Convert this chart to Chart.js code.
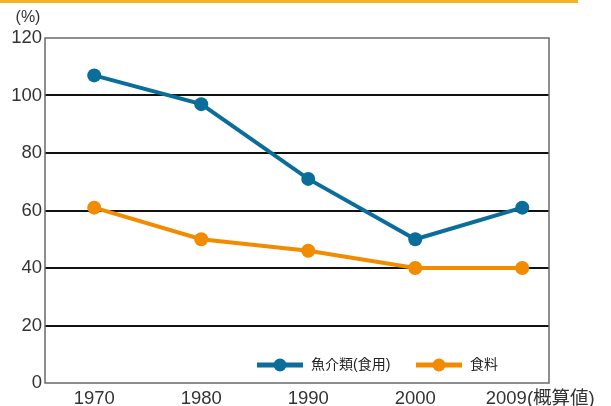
<!DOCTYPE html>
<html>
<head>
<meta charset="utf-8">
<script src="https://cdn.jsdelivr.net/npm/chart.js@4"></script>
<style>
  html, body { margin: 0; padding: 0; background: #fff; }
  #wrap { position: relative; width: 611px; height: 406px; }
  #topbar { position: absolute; left: 0; top: 0; width: 578px; height: 3px; background: #f5b324; }
</style>
</head>
<body>
<div id="wrap">
  <div id="topbar"></div>
  <canvas id="selfSufficiencyChart" width="611" height="406"></canvas>
</div>
<script>
const years = ['1970', '1980', '1990', '2000', '2009(概算値)'];
const fishValues = [107, 97, 71, 50, 61];
const foodValues = [61, 50, 46, 40, 40];
const yTicks = [0, 20, 40, 60, 80, 100, 120];

const blue = '#0b6d99';
const orange = '#f28b00';
const fontFamily = '"Liberation Sans", Arial, "Noto Sans CJK JP", sans-serif';

// year index -> point, so the x axis can sit on a linear scale
const toPoints = values => values.map((v, i) => ({ x: i, y: v }));

// the last label hangs to the right of its point, so pad it on the left
const xLabel = i => (i === years.length - 1 ? '       ' : '') + years[i];

// gray frame around the plot area
const frame = {
    id: 'frame',
    afterDatasetsDraw(chart) {
        const a = chart.chartArea;
        const ctx = chart.ctx;
        ctx.save();
        ctx.strokeStyle = '#6a6a6a';
        ctx.lineWidth = 1.5;
        ctx.strokeRect(a.left, a.top, a.right - a.left, a.bottom - a.top);
        ctx.restore();
    }
};

// legend drawn inside the plot near the bottom, line with a dot
const innerLegend = {
    id: 'innerLegend',
    afterDraw(chart) {
        const ctx = chart.ctx;
        const positions = [257, 416];
        const y = 365;
        ctx.save();
        ctx.font = '14px ' + fontFamily;
        ctx.textBaseline = 'middle';
        chart.data.datasets.forEach((ds, i) => {
            const x = positions[i];
            ctx.strokeStyle = ds.borderColor;
            ctx.lineWidth = 5;
            ctx.beginPath();
            ctx.moveTo(x, y);
            ctx.lineTo(x + 46, y);
            ctx.stroke();
            ctx.fillStyle = ds.borderColor;
            ctx.beginPath();
            ctx.arc(x + 23, y, 6.5, 0, Math.PI * 2);
            ctx.fill();
            ctx.fillStyle = '#222';
            ctx.fillText(ds.label, x + 54, y);
        });
        ctx.restore();
    }
};

// "(%)" above the value axis
const unitLabel = {
    id: 'unitLabel',
    afterDraw(chart) {
        const ctx = chart.ctx;
        ctx.save();
        ctx.font = '16px ' + fontFamily;
        ctx.fillStyle = '#333';
        ctx.textAlign = 'center';
        ctx.textBaseline = 'middle';
        ctx.fillText('(%)', 28, 18);
        ctx.restore();
    }
};

const ctx = document.getElementById('selfSufficiencyChart').getContext('2d');
new Chart(ctx, {
    type: 'line',
    data: {
        datasets: [
            {
                label: '魚介類(食用)',
                data: toPoints(fishValues),
                borderColor: blue,
                backgroundColor: blue,
                borderWidth: 4,
                pointRadius: 7,
                pointHoverRadius: 7,
                pointBorderWidth: 0,
                fill: false,
                tension: 0
            },
            {
                label: '食料',
                data: toPoints(foodValues),
                borderColor: orange,
                backgroundColor: orange,
                borderWidth: 4,
                pointRadius: 7,
                pointHoverRadius: 7,
                pointBorderWidth: 0,
                fill: false,
                tension: 0
            }
        ]
    },
    options: {
        responsive: false,
        animation: false,
        layout: {
            padding: { top: 38, right: 62, left: 0, bottom: 0 }
        },
        plugins: {
            legend: { display: false },
            tooltip: { enabled: false }
        },
        scales: {
            x: {
                type: 'linear',
                min: -0.46,
                max: 4.25,
                afterBuildTicks(scale) {
                    scale.ticks = years.map((y, i) => ({ value: i }));
                },
                grid: { display: false, drawTicks: false },
                border: { display: false },
                ticks: {
                    color: '#333',
                    font: { family: fontFamily, size: 18.5 },
                    padding: 5,
                    maxRotation: 0,
                    autoSkip: false,
                    callback: v => xLabel(v)
                },
                afterFit(scale) { scale.height = 23; }
            },
            y: {
                min: 0,
                max: 120,
                afterBuildTicks(scale) {
                    scale.ticks = yTicks.map(v => ({ value: v }));
                },
                grid: {
                    drawTicks: false,
                    lineWidth: 2,
                    color: c => (c.tick.value === 0 || c.tick.value === 120) ? 'rgba(0,0,0,0)' : '#111'
                },
                border: { display: false },
                ticks: {
                    color: '#333',
                    font: { family: fontFamily, size: 18.5 },
                    padding: 3
                },
                afterFit(scale) { scale.width = 45; }
            }
        }
    },
    plugins: [frame, innerLegend, unitLabel]
});
</script>
</body>
</html>
